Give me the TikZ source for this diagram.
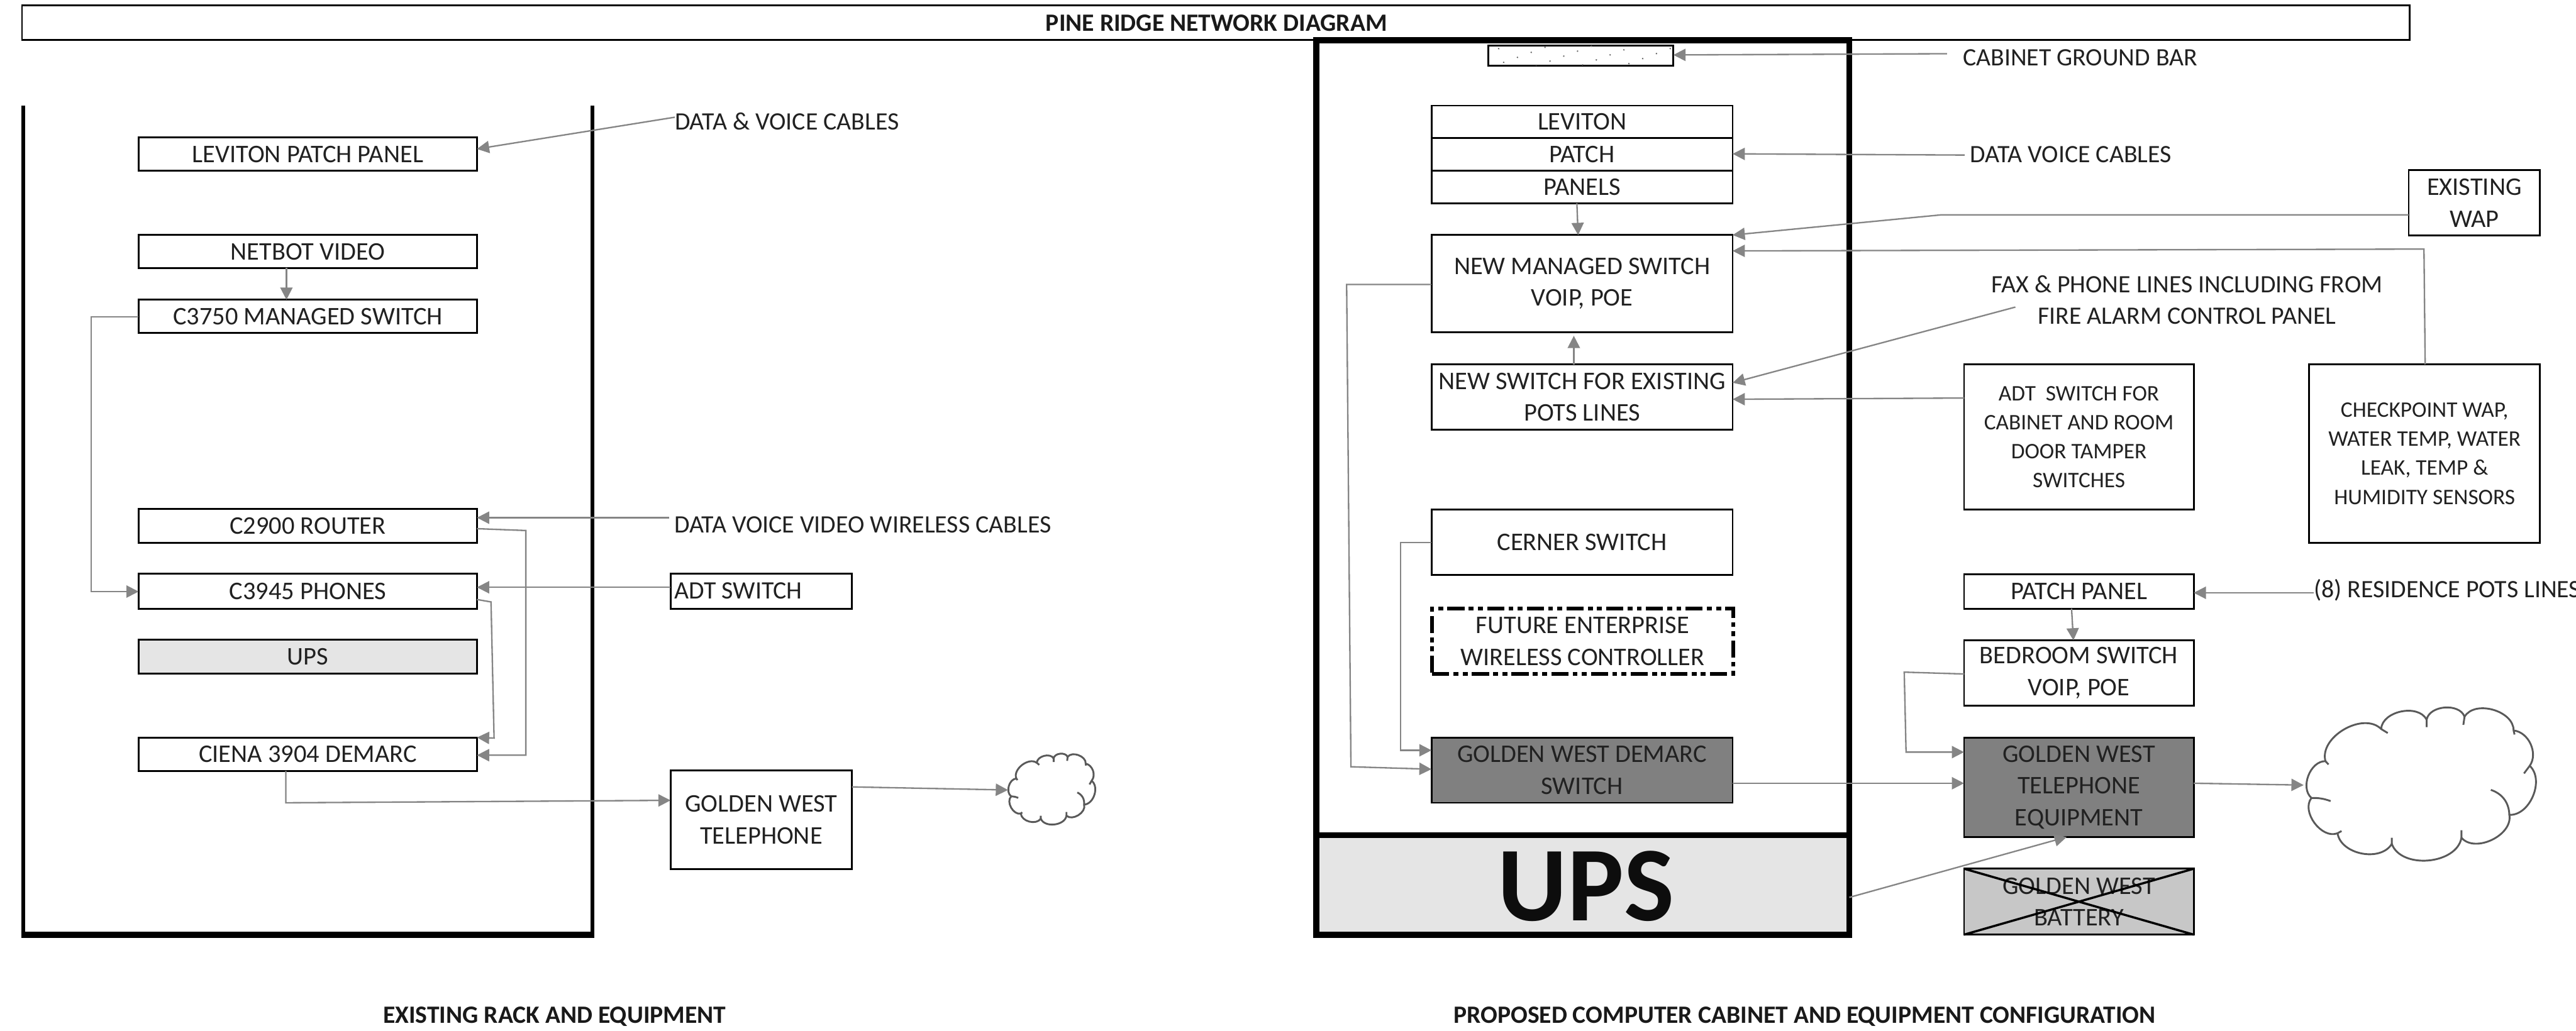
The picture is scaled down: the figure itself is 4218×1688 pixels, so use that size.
\documentclass[tikz,border=0pt]{standalone}
\usepackage{fontspec}
\setmainfont{Carlito}
\usetikzlibrary{arrows.meta,patterns.meta}
\definecolor{conn}{gray}{0.52}
\definecolor{ink}{gray}{0.13}
\tikzset{
  boxbase/.style={draw=black,line width=1.5pt,inner sep=0pt,outer sep=0pt,text=ink,align=center,font=\fontsize{20.8}{26}\selectfont},
  smalltxt/.style={font=\fontsize{18.2}{23.8}\selectfont},
  graybox/.style={fill=black!50},
  dotbox/.style={fill=black!10},
  lbl/.style={inner sep=0pt,outer sep=0pt,text=ink,align=center,font=\fontsize{20.5}{26}\selectfont},
  headlbl/.style={inner sep=0pt,outer sep=0pt,text=black!90,font=\fontsize{20.4}{24}\selectfont\bfseries},
  conx/.style={draw=conn,line width=1.2pt,-{Triangle[length=10pt,width=10pt]},line join=miter},
  rackline/.style={draw=black,line width=3.5pt},
  cabinet/.style={draw=black,line width=5pt,inner sep=0pt,outer sep=0pt},
  cloudy/.pic={
    \draw[draw=black!65,line width=1.5pt,line join=round]
      (9.2,33.8) to[bend left=75] (32.7,12.3)
      to[bend left=75] (51.9,6.1)
      to[bend left=75] (67.9,4.1)
      to[bend left=75] (88.6,13.3)
      to[bend left=60] (95.4,36.9)
      to[bend left=70] (86.8,69.7)
      to[bend left=75] (66.6,85)
      to[bend left=75] (37.2,89.1)
      to[bend left=70] (14.3,82)
      to[bend left=75] (3.3,58.4)
      to[bend left=70] cycle;
    \draw[draw=black!65,line width=1.5pt]
      (9.2,33.8) -- (10.5,36)
      (32.7,12.3) -- (35.5,15)
      (51.9,6.1) -- (51.9,11)
      (67.9,4.1) -- (67.4,9.5)
      (88.6,13.3) -- (89,16)
      (95.4,36.9) -- (93,42)
      (79,53) to[bend left=35] (86.8,69.7)
      (66.6,85) -- (66.6,80)
      (37.2,89.1) -- (37.2,85)
      (14.3,82) -- (16,80.5)
      (3.3,58.4) to[bend left=10] (11.4,60.5);
  }
}
\newcommand{\bx}[7]{%
  \pgfmathsetmacro{\bxcx}{(#2+#4)/2}%
  \pgfmathsetmacro{\bxcy}{(#3+#5)/2}%
  \pgfmathsetmacro{\bxw}{(#4-#2)*0.5}%
  \pgfmathsetmacro{\bxh}{(#5-#3)*0.5}%
  \node[boxbase,minimum width=\bxw pt,minimum height=\bxh pt,#6] (#1) at (\bxcx,\bxcy) {#7};%
}
\begin{document}
\begin{tikzpicture}[x=0.5pt,y=-0.5pt]
\useasboundingbox (0,0) rectangle (4218,1688);

% title
\bx{title}{36}{9}{3946}{65}{}{}
\node[headlbl] (titletxt) at (1992,38) {PINE RIDGE NETWORK DIAGRAM};

% left rack
\coordinate (rtl) at (38,173);
\coordinate (rbl) at (38,1531);
\coordinate (rbr) at (970,1531);
\coordinate (rtr) at (970,173);
\draw[rackline] (rtl) -- (rbl);
\draw[rackline] (rtr) -- (rbr);
\draw[draw=black,line width=5pt] ([xshift=-1.75pt]rbl) -- ([xshift=1.75pt]rbr);

\bx{lev}{227}{225}{781}{280}{}{LEVITON PATCH PANEL}
\bx{netbot}{227}{385}{781}{439}{}{NETBOT VIDEO}
\bx{cs}{227}{491}{781}{545}{}{C3750 MANAGED SWITCH}
\bx{router}{227}{834}{781}{889}{}{C2900 ROUTER}
\bx{phones}{227}{940}{781}{997}{}{C3945 PHONES}
\bx{upsa}{227}{1048}{781}{1103}{dotbox}{UPS}
\bx{ciena}{227}{1208}{781}{1263}{}{CIENA 3904 DEMARC}
\bx{adta}{1098}{940}{1395}{997}{}{}
\node[lbl,anchor=west] (adtatxt) at (1104,968) {ADT SWITCH};
\bx{gwa}{1098}{1262}{1395}{1424}{}{GOLDEN WEST\\TELEPHONE}
\node[minimum width=71.5pt,minimum height=59.5pt,inner sep=0pt,outer sep=0pt] (clouda) at (1722,1294) {};
\coordinate (cao) at (1651,1235);
\pic[x=1.43*0.5pt,y=-1.19*0.5pt] at (cao) {cloudy};

\node[lbl,anchor=west] (la) at (1105,199) {DATA \& VOICE CABLES};
\node[lbl,anchor=west] (lb) at (1104,860) {DATA VOICE VIDEO WIRELESS CABLES};
\node[headlbl] (heada) at (908,1665) {EXISTING RACK AND EQUIPMENT};

\draw[conx] (la.west |- 0,192) -- (lev.east |- 0,244);
\draw[conx] (netbot.south -| 469,0) -- (cs.north -| 469,0);
\draw[conx] (cs.west |- 0,519) -- (149,519) -- (149,969) -- (phones.west |- 0,969);
\draw[conx] (lb.west |- 0,848) ++(-8,0) -- (router.east |- 0,848);
\draw[conx] (router.east |- 0,866) -- (861,869) -- (861,1237) -- (ciena.east |- 0,1237);
\draw[conx] (adta.west |- 0,962) -- (phones.east |- 0,962);
\draw[conx] (phones.east |- 0,982) -- (804,986) -- (809,1209) -- (ciena.north east);
\draw[conx] (ciena.south -| 468,0) -- (468,1315) -- (gwa.west |- 0,1311);
\draw[conx] (gwa.east |- 0,1289) -- (clouda.west);

% cabinet
\bx{cab}{2155}{66}{3028}{1531}{cabinet}{}
\bx{upsb}{2155}{1368}{3028}{1531}{cabinet,dotbox}{}
\node[inner sep=0pt,outer sep=0pt,text=black!95,font=\fontsize{87}{87}\selectfont\bfseries] (upstxt) at (2597,1452) {UPS};

\bx{ground}{2437}{75}{2740}{108}{postaction={pattern={Dots[distance=12pt,radius=0.7pt,angle=20]},pattern color=black!60}}{}
\bx{levb}{2344}{173}{2837}{226}{}{LEVITON}
\bx{patch}{2344}{226}{2837}{280}{}{PATCH}
\bx{panels}{2344}{280}{2837}{333}{}{PANELS}
\bx{newm}{2344}{385}{2837}{544}{}{NEW MANAGED SWITCH\\VOIP, POE}
\bx{news}{2344}{597}{2837}{704}{}{NEW SWITCH FOR EXISTING\\POTS LINES}
\bx{cerner}{2344}{835}{2837}{942}{}{CERNER SWITCH}
\bx{future}{2345}{997}{2838}{1104}{line width=3pt,dash pattern=on 14pt off 3.5pt on 4pt off 3.5pt on 4pt off 3.5pt}{FUTURE ENTERPRISE\\WIRELESS CONTROLLER}
\bx{demarc}{2344}{1208}{2837}{1315}{graybox}{GOLDEN WEST DEMARC\\SWITCH}

\bx{patchp}{3216}{941}{3592}{997}{}{PATCH PANEL}
\bx{bed}{3216}{1049}{3592}{1156}{}{BEDROOM SWITCH\\VOIP, POE}
\bx{gwt}{3216}{1208}{3592}{1371}{graybox}{GOLDEN WEST\\TELEPHONE\\EQUIPMENT}
\bx{batt}{3216}{1423}{3592}{1531}{fill=black!22}{GOLDEN WEST\\BATTERY}
\draw[draw=black,line width=1.8pt] (batt.north west) -- (batt.south east) (batt.north east) -- (batt.south west);
\bx{adtb}{3216}{597}{3592}{835}{smalltxt}{ADT\ \ SWITCH FOR\\CABINET AND ROOM\\DOOR TAMPER\\SWITCHES}
\bx{check}{3781}{597}{4159}{889}{smalltxt}{CHECKPOINT WAP,\\WATER TEMP, WATER\\LEAK, TEMP \&\\HUMIDITY SENSORS}
\bx{wap}{3944}{279}{4159}{386}{}{EXISTING\\WAP}
\node[minimum width=194pt,minimum height=122.5pt,inner sep=0pt,outer sep=0pt] (cloudb) at (3966,1286) {};
\coordinate (cbo) at (3772,1164);
\pic[x=3.88*0.5pt,y=-2.45*0.5pt] at (cbo) {cloudy};

\node[lbl,anchor=west] (lc) at (3214,94) {CABINET GROUND BAR};
\node[lbl,anchor=west] (ld) at (3226,253) {DATA VOICE CABLES};
\node[lbl] (le) at (3581,491) {FAX \& PHONE LINES INCLUDING FROM\\FIRE ALARM CONTROL PANEL};
\node[lbl,anchor=west] (lf) at (3789,967) {(8) RESIDENCE POTS LINES};
\node[headlbl] (headb) at (2955,1665) {PROPOSED COMPUTER CABINET AND EQUIPMENT CONFIGURATION};
\coordinate (faxend) at (3300,503);

\draw[conx] (lc.west |- 0,88) ++(-26,0) -- (ground.east |- 0,90);
\draw[conx] (ld.west |- 0,254) ++(-9,0) -- (patch.east |- 0,252);
\draw[conx] (panels.south -| 2582,0) -- (newm.north -| 2584,0);
\draw[conx] (wap.west |- 0,352) -- (3178,352) -- (newm.north east);
\draw[conx] (check.north -| 3971,0) -- (3969,408) -- (newm.east |- 0,411);
\draw[conx] (faxend) -- (news.east |- 0,627);
\draw[conx] (adtb.west |- 0,652) -- (news.east |- 0,654);
\draw[conx] (news.north -| 2577,0) -- (2577,550);
\draw[conx] (newm.west |- 0,466) -- (2205,466) -- (2212,1256) -- (demarc.west |- 0,1260);
\draw[conx] (cerner.west |- 0,889) -- (2293,889) -- (2293,1229) -- (demarc.west |- 0,1229);
\draw[conx] (demarc.east |- 0,1283) -- (gwt.west |- 0,1283);
\draw[conx] (bed.west |- 0,1104) -- (3118,1101) -- (3121,1232) -- (gwt.west |- 0,1232);
\draw[conx] (gwt.east |- 0,1283) -- (cloudb.west);
\draw[conx] (upsb.east |- 0,1470) -- (gwt.south -| 3384,0);
\draw[conx] (lf.west |- 0,971) -- (patchp.east |- 0,971);
\draw[conx] (patchp.south -| 3392,0) -- (bed.north -| 3395,0);
\end{tikzpicture}
\end{document}
